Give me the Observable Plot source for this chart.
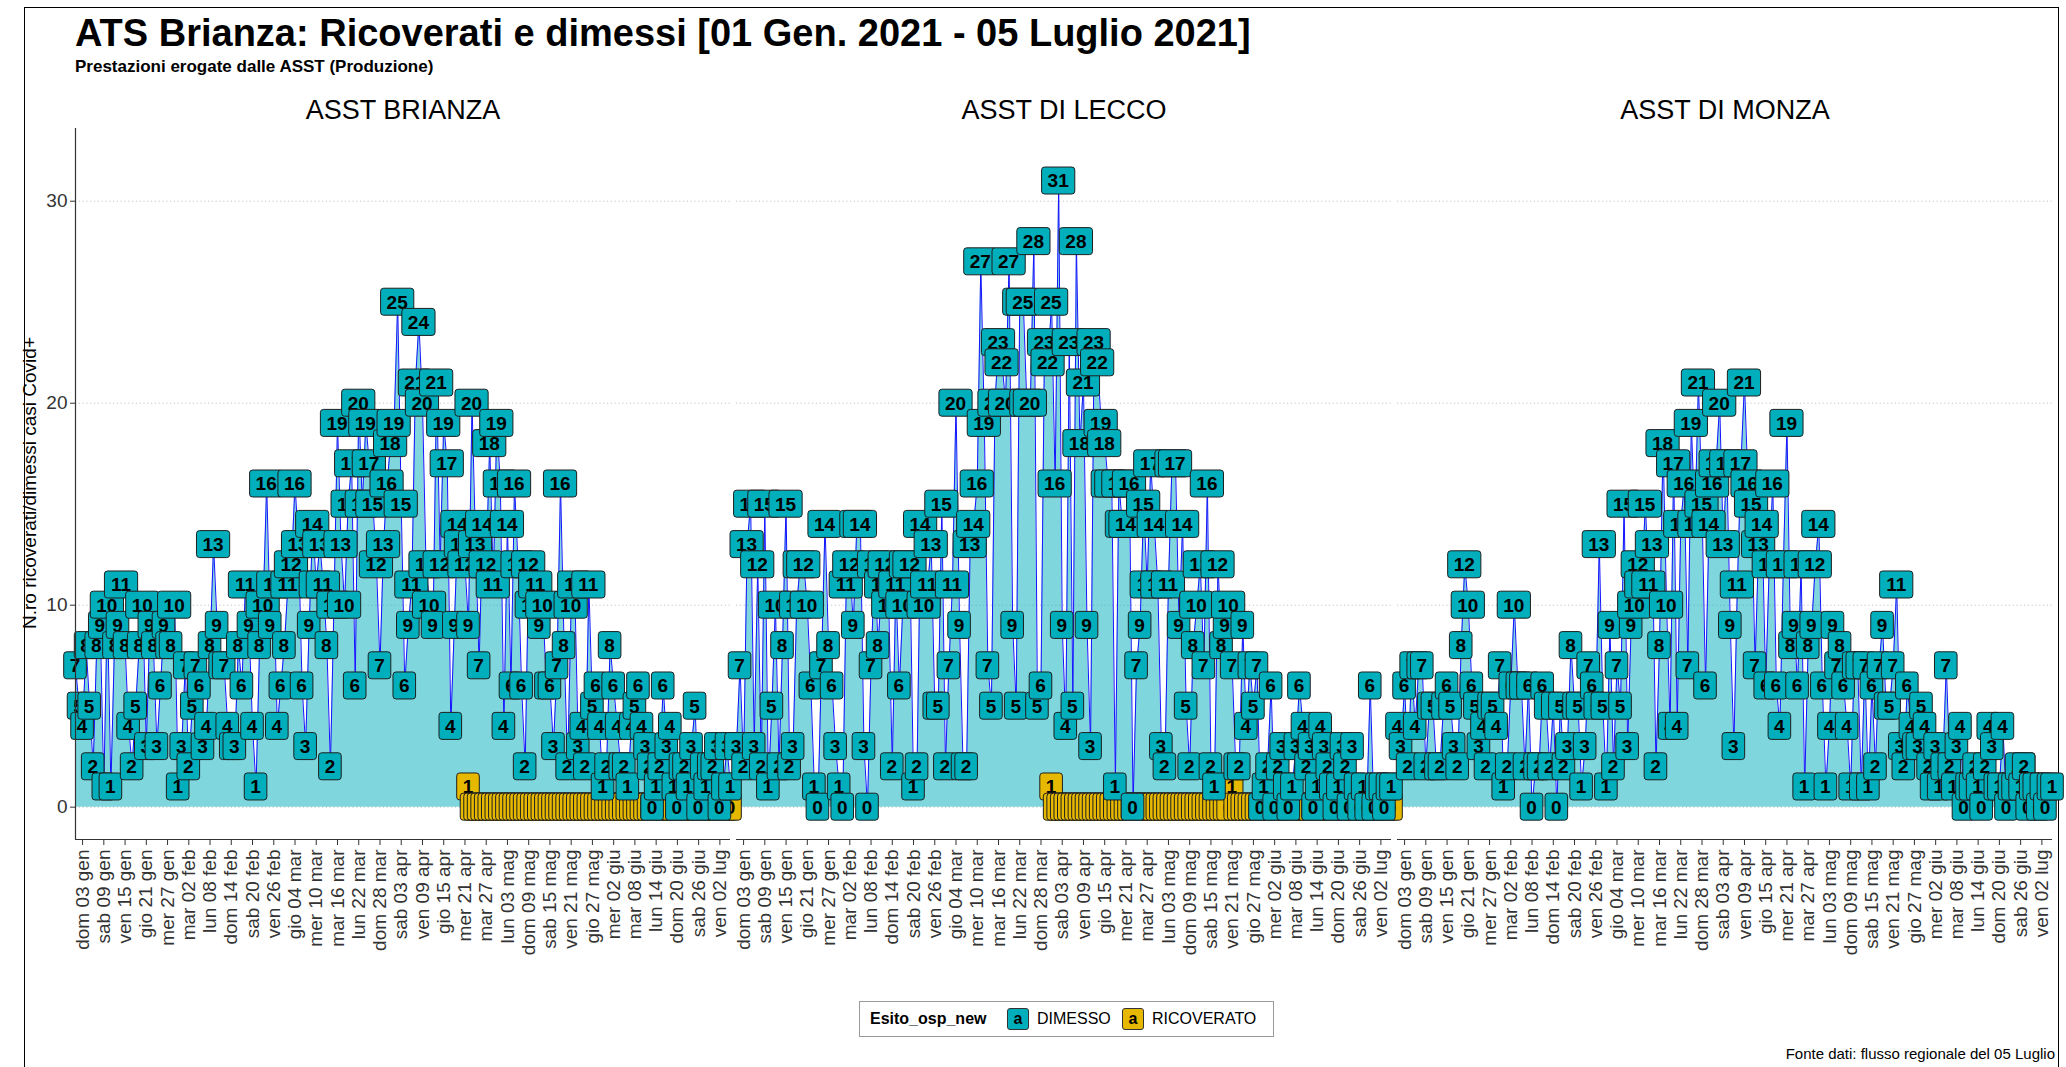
<!DOCTYPE html>
<html>
<head>
<meta charset="utf-8">
<script src="https://cdn.jsdelivr.net/npm/d3@7"></script>
<script src="https://cdn.jsdelivr.net/npm/@observablehq/plot@0.6"></script>
<style>
html,body{margin:0;padding:0;background:#fff;overflow:hidden;}
#page{position:relative;width:2066px;height:1067px;overflow:hidden;font-family:"Liberation Sans",Arial,sans-serif;color:#000;}
#frame{position:absolute;left:24px;top:7px;width:2035px;height:1100px;border:1.5px solid #000;box-sizing:border-box;}
#chart{position:absolute;left:0;top:0;}
.abs{position:absolute;white-space:nowrap;line-height:1;}
#title{left:75px;top:14px;font-size:38px;font-weight:bold;}
#subtitle{left:75px;top:58px;font-size:17px;font-weight:bold;}
#ylab{left:29px;top:483px;font-size:19px;transform:translate(-50%,-50%) rotate(-90deg);}
#caption{right:11px;top:1046px;font-size:15px;}
#legend{position:absolute;left:859px;top:1001px;width:415px;height:36px;border:1px solid #9a9a9a;box-sizing:border-box;}
.key{position:absolute;top:6px;width:22px;height:22px;border:1px solid #333;border-radius:3px;box-sizing:border-box;font-weight:bold;font-size:16px;text-align:center;line-height:20px;}
.ltxt{position:absolute;top:9px;font-size:16px;line-height:1;}
</style>
</head>
<body>
<div id="page">
  <div id="frame"></div>
  <div id="chart"></div>
  <div id="title" class="abs">ATS Brianza: Ricoverati e dimessi [01 Gen. 2021 - 05 Luglio 2021]</div>
  <div id="subtitle" class="abs">Prestazioni erogate dalle ASST (Produzione)</div>
  <div id="ylab" class="abs">N.ro ricoverati/dimessi casi Covid+</div>
  <div id="legend">
    <div class="ltxt" style="left:10px;font-weight:bold;">Esito_osp_new</div>
    <div class="key" style="left:147px;background:#00AFBB;">a</div>
    <div class="ltxt" style="left:177px;">DIMESSO</div>
    <div class="key" style="left:262px;background:#E7B800;">a</div>
    <div class="ltxt" style="left:292px;">RICOVERATO</div>
  </div>
  <div id="caption" class="abs">Fonte dati: flusso regionale del 05 Luglio</div>
</div>
<script>
// ---------------- DATA ----------------
const asstNames = ["ASST BRIANZA", "ASST DI LECCO", "ASST DI MONZA"];
const esitoNames = ["DIMESSO", "RICOVERATO"];
const esitoColors = ["#00AFBB", "#E7B800"];
const firstDay = "2021-01-01";
const lastDay = "2021-07-05";

// daily DIMESSO counts, one value per day from 01 Jan 2021 to 05 Jul 2021
const dimessiBrianza = [
  7,5,4,8,5,2,8,9,1,10,
  1,8,9,11,8,4,2,5,8,10,
  3,9,8,3,6,9,8,8,10,1,
  3,7,2,5,7,6,3,4,8,13,
  9,7,7,4,3,3,8,6,11,9,
  4,1,8,10,16,9,11,4,6,8,
  11,12,16,13,6,3,9,14,11,13,
  11,8,2,10,19,13,10,15,17,6,
  20,15,19,17,15,12,7,13,16,18,
  19,25,15,6,9,11,21,24,20,12,
  10,9,21,12,19,17,4,9,14,13,
  12,9,20,13,7,14,12,18,11,19,
  16,4,14,6,16,12,6,2,12,10,
  11,9,10,6,6,3,7,16,8,2,
  10,11,3,4,2,11,5,6,4,1,
  2,8,6,4,2,2,1,4,5,6,
  4,3,2,0,1,2,6,3,4,1,
  0,2,2,1,3,5,0,2,1,2,
  2,3,0,1,3,1
];
const dimessiLecco = [
  3,7,2,13,15,3,12,2,15,1,
  5,10,2,8,15,2,3,10,12,12,
  10,6,1,0,7,14,8,6,3,1,
  0,11,12,9,14,14,3,0,7,12,
  8,11,12,10,2,11,6,10,12,12,
  1,2,14,10,11,13,5,5,15,2,
  7,11,20,9,2,2,13,14,16,27,
  19,7,5,20,23,22,20,27,9,5,
  25,25,20,20,28,5,6,23,22,25,
  16,31,9,4,23,5,28,18,21,9,
  3,23,22,19,18,16,16,1,16,14,
  14,16,0,7,9,15,11,17,14,11,
  3,2,11,17,17,9,14,5,2,8,
  10,12,7,16,2,1,12,8,9,10,
  7,2,2,9,4,7,5,7,0,1,
  2,6,0,2,3,1,0,1,3,6,
  4,2,3,0,1,4,3,2,1,0,
  1,3,2,0,3,1,0,1,0,6,
  0,1,1,0,1,1
];
const dimessiMonza = [
  4,3,6,2,7,4,7,7,2,5,
  5,2,2,5,6,5,3,2,8,12,
  10,6,5,3,4,2,5,5,4,7,
  1,2,6,10,6,6,2,6,0,2,
  2,6,5,2,5,0,5,2,3,8,
  5,5,1,3,7,6,5,13,5,1,
  9,2,7,5,15,3,9,10,12,11,
  15,11,13,2,8,18,10,4,17,4,
  14,16,7,19,14,21,15,6,14,16,
  17,20,13,17,9,3,11,17,21,16,
  15,7,13,14,6,12,16,6,4,12,
  19,8,9,6,12,1,8,9,12,14,
  6,1,4,9,7,8,6,4,1,7,
  7,1,7,1,6,2,7,9,5,5,
  7,11,3,2,6,4,3,3,5,4,
  2,1,3,1,2,7,2,1,3,4,
  0,1,1,2,1,0,2,4,3,1,
  1,4,0,1,1,2,1,2,0,1,
  1,0,1,0,1,1
];

// daily RICOVERATO counts, from the given start day onwards
const ricoveratiBrianzaStart = "2021-04-22";
const ricoveratiBrianza = [
  1,0,0,0,0,0,0,0,0,0,
  0,0,0,0,0,0,0,0,0,0,
  0,0,0,0,0,0,0,0,0,0,
  0,0,0,0,0,0,0,0,0,0,
  0,0,0,0,0,0,0,0,0,0,
  0,0,0,0,0,0,0,0,0,0,
  0,0,0,0,0,1,0,0,0,0,
  0,0,0,0,0
];
const ricoveratiLeccoStart = "2021-03-31";
const ricoveratiLecco = [
  1,0,0,0,0,0,0,0,0,0,
  0,0,0,0,0,0,0,0,0,0,
  0,0,0,0,0,0,0,0,0,0,
  0,0,0,0,0,0,0,0,0,0,
  0,0,0,0,0,0,0,0,0,0,
  0,1,0,0,0,0,0,0,0,0,
  0,0,0,0,0,0,0,0,0,0,
  0,0,0,0,0,0,0,0,0,0,
  0,0,0,0,0,0,0,0,0,0,
  0,0,0,0,0,0,0
];
const ricoveratiMonzaStart = "2021-06-27";
const ricoveratiMonza = [2];

const tickDates = [
  "2021-01-03","2021-01-09","2021-01-15","2021-01-21","2021-01-27","2021-02-02",
  "2021-02-08","2021-02-14","2021-02-20","2021-02-26","2021-03-04","2021-03-10",
  "2021-03-16","2021-03-22","2021-03-28","2021-04-03","2021-04-09","2021-04-15",
  "2021-04-21","2021-04-27","2021-05-03","2021-05-09","2021-05-15","2021-05-21",
  "2021-05-27","2021-06-02","2021-06-08","2021-06-14","2021-06-20","2021-06-26",
  "2021-07-02"
];
const tickLabels = [
  "dom 03 gen","sab 09 gen","ven 15 gen","gio 21 gen","mer 27 gen","mar 02 feb",
  "lun 08 feb","dom 14 feb","sab 20 feb","ven 26 feb","gio 04 mar","mer 10 mar",
  "mar 16 mar","lun 22 mar","dom 28 mar","sab 03 apr","ven 09 apr","gio 15 apr",
  "mer 21 apr","mar 27 apr","lun 03 mag","dom 09 mag","sab 15 mag","ven 21 mag",
  "gio 27 mag","mer 02 giu","mar 08 giu","lun 14 giu","dom 20 giu","sab 26 giu",
  "ven 02 lug"
];
const yTicks = [0, 10, 20, 30];

// ---------------- BUILD TABLES ----------------
const DAY = 864e5;
const utc = s => new Date(s + "T00:00:00Z");
function rows(asst, esito, start, vals) {
  const t0 = +utc(start);
  return vals.map((v, i) => ({asst, esito, date: new Date(t0 + i * DAY), v}));
}
const dimData = [
  ...rows(asstNames[0], esitoNames[0], firstDay, dimessiBrianza),
  ...rows(asstNames[1], esitoNames[0], firstDay, dimessiLecco),
  ...rows(asstNames[2], esitoNames[0], firstDay, dimessiMonza)
];
const ricData = [
  ...rows(asstNames[0], esitoNames[1], ricoveratiBrianzaStart, ricoveratiBrianza),
  ...rows(asstNames[1], esitoNames[1], ricoveratiLeccoStart, ricoveratiLecco),
  ...rows(asstNames[2], esitoNames[1], ricoveratiMonzaStart, ricoveratiMonza)
];
const tickMap = new Map(tickDates.map((d, i) => [+utc(d), tickLabels[i]]));
const yMin = -1.6, yMax = 33.6;

// ggplot-like geom_label: rounded box + bold number, drawn datum by datum
function boxedLabels(fill) {
  return function(index, scales, values) {
    const ns = "http://www.w3.org/2000/svg";
    const g = document.createElementNS(ns, "g");
    const X = values.x, Y = values.y, T = values.text;
    for (const i of index) {
      const s = String(T[i]);
      const w = s.length * 10.6 + 12, h = 27;
      const r = document.createElementNS(ns, "rect");
      r.setAttribute("x", X[i] - w / 2);
      r.setAttribute("y", Y[i] - h / 2);
      r.setAttribute("width", w);
      r.setAttribute("height", h);
      r.setAttribute("rx", 3);
      r.setAttribute("fill", fill);
      r.setAttribute("stroke", "#1f1f1f");
      r.setAttribute("stroke-width", 1);
      g.appendChild(r);
      const t = document.createElementNS(ns, "text");
      t.setAttribute("x", X[i]);
      t.setAttribute("y", Y[i]);
      t.setAttribute("dy", "0.36em");
      t.setAttribute("text-anchor", "middle");
      t.setAttribute("font-size", 19);
      t.setAttribute("font-weight", "bold");
      t.setAttribute("fill", "#000");
      t.textContent = s;
      g.appendChild(t);
    }
    return g;
  };
}

const chart = Plot.plot({
  width: 2066,
  height: 985,
  marginLeft: 74,
  marginRight: 14,
  marginTop: 128,
  marginBottom: 146,
  style: {fontFamily: "Liberation Sans, Arial, sans-serif", background: "transparent", overflow: "visible"},
  fx: {domain: asstNames, paddingInner: 0.0098, paddingOuter: 0, axis: null},
  x: {type: "utc", domain: [utc(firstDay), utc(lastDay)]},
  y: {domain: [yMin, yMax]},
  marks: [
    Plot.ruleY(yTicks, {stroke: "#c4c4c4", strokeDasharray: "1.2,2.6", strokeWidth: 1}),
    Plot.areaY(dimData, {x: "date", y: "v", fx: "asst", fill: esitoColors[0], fillOpacity: 0.5}),
    Plot.lineY(dimData, {x: "date", y: "v", fx: "asst", stroke: "#1414ff", strokeWidth: 1}),
    Plot.text(ricData, {x: "date", y: "v", fx: "asst", text: "v", render: boxedLabels(esitoColors[1])}),
    Plot.text(dimData, {x: "date", y: "v", fx: "asst", text: "v", render: boxedLabels(esitoColors[0])}),
    Plot.ruleY([yMin], {stroke: "#333", strokeWidth: 1.2}),
    Plot.ruleX([{asst: asstNames[0], d: utc(firstDay)}], {x: "d", fx: "asst", y1: yMin, y2: yMax, stroke: "#333", strokeWidth: 1.2}),
    Plot.axisY({ticks: yTicks, tickSize: 5, tickPadding: 3, fontSize: 19, label: null, facetAnchor: "left", color: "#333"}),
    Plot.axisX({ticks: tickDates.map(utc), tickFormat: d => tickMap.get(+d), tickRotate: -90, fontSize: 19, tickSize: 6, tickPadding: 4, label: null, color: "#333"}),
    Plot.text(asstNames, {fx: d => d, text: d => d, frameAnchor: "top", lineAnchor: "bottom", dy: -10, fontSize: 27, fill: "#000"})
  ]
});
document.getElementById("chart").appendChild(chart);
</script>
</body>
</html>
